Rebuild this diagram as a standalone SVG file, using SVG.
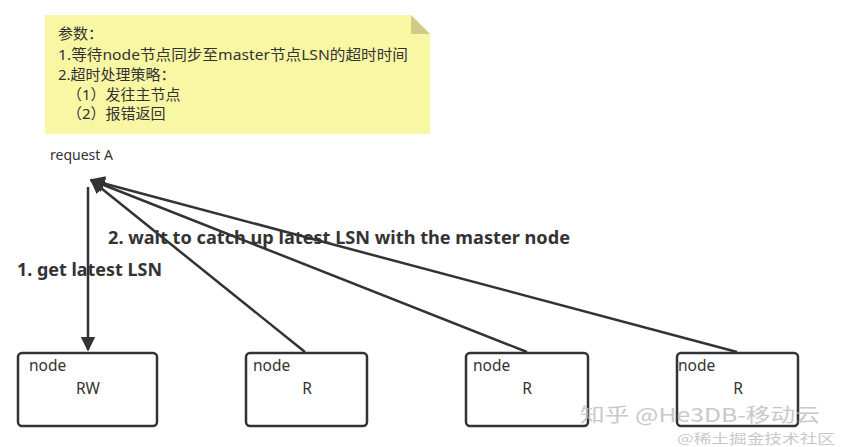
<svg xmlns="http://www.w3.org/2000/svg" width="841" height="447" viewBox="0 0 841 447">
<style>
.t{font-family:"Noto Sans","Noto Sans CJK SC",sans-serif;fill:#333;font-size:15px}
.r{font-family:"Noto Sans","Noto Sans CJK SC",sans-serif;fill:#333;font-size:14px}
.n{font-family:"Noto Sans","Noto Sans CJK SC",sans-serif;fill:#333;font-size:15.5px}
.b{font-family:"Noto Sans","Liberation Sans",sans-serif;fill:#333;font-size:17px;font-weight:bold}
.box{fill:#fff;stroke:#333;stroke-width:2.5}
.ln{stroke:#333;stroke-width:2.5;fill:none}
.wm{font-family:"Noto Sans CJK SC",sans-serif;fill:#bbb;opacity:0.8}
</style>
<defs>
<marker id="ah" viewBox="0 0 10 10" refX="9" refY="5" markerWidth="6" markerHeight="6" orient="auto" markerUnits="strokeWidth">
<path d="M0,0 L10,5 L0,10 z" fill="#333"/>
</marker>
</defs>
<rect width="841" height="447" fill="#fff"/>
<g id="note">
<path d="M45,15 L411,15 L430,34 L430,134 L45,134 z" fill="#faf7a4"/>
<path d="M411,15 L430,34 L411,34 z" fill="#cfcc86"/>
<text class="t" x="58" y="39">参数：</text>
<text class="t" x="58" y="60" textLength="350" lengthAdjust="spacingAndGlyphs">1.等待node节点同步至master节点LSN的超时时间</text>
<text class="t" x="58" y="80">2.超时处理策略：</text>
<text class="t" x="67" y="100">（1）发往主节点</text>
<text class="t" x="67" y="119">（2）报错返回</text>
</g>
<g id="request">
<text class="r" x="50" y="160">request A</text>
</g>
<g id="connectors">
<line class="ln" x1="88" y1="187" x2="88" y2="350" marker-end="url(#ah)"/>
<line class="ln" x1="305" y1="352" x2="91" y2="180" marker-end="url(#ah)"/>
<line class="ln" x1="527" y1="352" x2="91" y2="180" marker-end="url(#ah)"/>
<line class="ln" x1="737" y1="352" x2="91" y2="180" marker-end="url(#ah)"/>
<text class="b" x="108" y="244" textLength="462" lengthAdjust="spacingAndGlyphs">2. wait to catch up latest LSN with the master node</text>
<text class="b" x="17" y="276" textLength="145" lengthAdjust="spacingAndGlyphs">1. get latest LSN</text>
</g>
<g id="node-rw">
<rect class="box" x="18" y="353" width="139" height="73" rx="4"/>
<text class="n" x="29" y="371">node</text>
<text class="n" x="88" y="394" text-anchor="middle">RW</text>
</g>
<g id="node-r1">
<rect class="box" x="246" y="353" width="121" height="73" rx="4"/>
<text class="n" x="253" y="371">node</text>
<text class="n" x="307" y="394" text-anchor="middle">R</text>
</g>
<g id="node-r2">
<rect class="box" x="466" y="353" width="122" height="73" rx="4"/>
<text class="n" x="473" y="371">node</text>
<text class="n" x="527" y="394" text-anchor="middle">R</text>
</g>
<g id="node-r3">
<rect class="box" x="677" y="353" width="121" height="73" rx="4"/>
<text class="n" x="678" y="371">node</text>
<text class="n" x="738" y="394" text-anchor="middle">R</text>
</g>
<g id="watermark">
<text class="wm" x="580" y="422" font-size="19" textLength="240" lengthAdjust="spacingAndGlyphs">知乎 @He3DB-移动云</text>
<text class="wm" x="677" y="443" font-size="13" textLength="158" lengthAdjust="spacingAndGlyphs">@稀土掘金技术社区</text>
</g>
</svg>
